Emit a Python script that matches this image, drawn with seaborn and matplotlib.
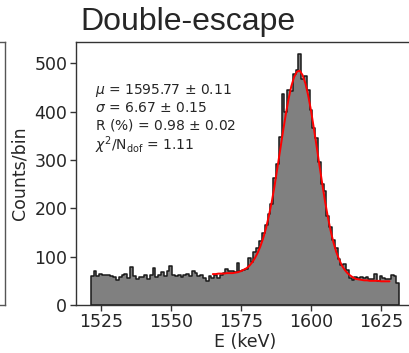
import numpy as np
import pandas as pd
import matplotlib
matplotlib.use("Agg")
import matplotlib.pyplot as plt
import seaborn as sns

# ---- data ----
bin_centers = np.arange(1522, 1632)          # keV, 1 keV bins
counts = [
    61, 70, 59, 65, 63, 63, 63, 61, 58, 51,
    58, 63, 64, 56, 78, 59, 53, 58, 57, 62,
    54, 62, 76, 58, 63, 68, 59, 71, 80, 63,
    59, 62, 57, 63, 64, 59, 71, 66, 59, 62,
    56, 50, 59, 55, 62, 56, 63, 66, 74, 71,
    71, 68, 87, 70, 72, 75, 98, 90, 110, 118,
    132, 148, 165, 189, 210, 262, 292, 348, 437, 400,
    445, 443, 478, 487, 520, 468, 474, 445, 404, 366,
    345, 296, 250, 236, 185, 162, 135, 118, 95, 82,
    84, 72, 56, 52, 58, 56, 57, 55, 57, 54,
    53, 65, 50, 59, 56, 53, 53, 62, 60, 45,
]
fit_x = list(range(1565, 1629))
fit_y = [
    64, 64, 65, 65, 65, 66, 66, 66, 67, 68,
    70, 73, 76, 81, 88, 97, 108, 122, 139, 160,
    185, 213, 246, 283, 320, 358, 394, 426, 453, 472,
    483, 485, 476, 459, 434, 403, 367, 329, 290, 252,
    215, 183, 154, 130, 110, 95, 82, 73, 66, 61,
    57, 54, 53, 52, 51, 51, 50, 50, 50, 50,
    49, 49, 49, 49,
]
title = "Double-escape"
fit_text = [
    r"$\mu$ = 1595.77 $\pm$ 0.11",
    r"$\sigma$ = 6.67 $\pm$ 0.15",
    r"R (%) = 0.98 $\pm$ 0.02",
    r"$\chi^2$/N$_\mathrm{dof}$ = 1.11",
]
y_ticks = [0, 100, 200, 300, 400, 500]
x_ticks = [1525, 1550, 1575, 1600, 1625]

df = pd.DataFrame({"E": bin_centers.astype(float), "n": np.asarray(counts, dtype=float)})

# ---- figure ----
sns.set_style("ticks")
plt.rcParams["font.family"] = ["DejaVu Sans"]

W, H = 409, 353
fig = plt.figure(figsize=(W / 100, H / 100), dpi=100)

x0, x1 = 75.7, 415.0
y_top, y_bot = 41.7, 305.0
ax = fig.add_axes([x0 / W, 1 - y_bot / H, (x1 - x0) / W, (y_bot - y_top) / H])

# neighbouring panel frame (only its right edge is visible)
axl = fig.add_axes([-0.5, 1 - y_bot / H, 0.5 + 5 / W, (y_bot - y_top) / H])
axl.set_xticks([])
axl.set_yticks([])
for s in axl.spines.values():
    s.set_color("#555555")
    s.set_linewidth(1.0)

sns.histplot(data=df, x="E", weights="n", binwidth=1,
             binrange=(bin_centers[0] - 0.5, bin_centers[-1] + 0.5),
             element="step", fill=True,
             facecolor="#808080", edgecolor="#1a1a1a", linewidth=1.1, alpha=1.0, ax=ax)
sns.lineplot(x=fit_x, y=fit_y, color="red", linewidth=1.4, ax=ax)

ax.set_xlim(1516.1, 1637.1)
ax.set_ylim(0, 545)
ax.set_xticks(x_ticks)
ax.set_yticks(y_ticks)
ax.tick_params(labelsize=12.5, length=4, width=1, color="#333333", pad=2)
for s in ax.spines.values():
    s.set_color("#333333")
    s.set_linewidth(1.0)
ax.set_xlabel("E (keV)", fontsize=12.5, labelpad=1)
ax.set_ylabel("Counts/bin", fontsize=12.5, labelpad=4)

ax.text((95 - x0) / (x1 - x0), (y_bot - 82) / (y_bot - y_top), "\n".join(fit_text),
        transform=ax.transAxes, fontsize=10, va="top", ha="left", linespacing=1.15)

fig.text(80 / W, 1 - 30 / H, title, fontsize=23, family=["Liberation Sans", "DejaVu Sans"],
         ha="left", va="baseline")

fig.savefig("out.png", dpi=100)
